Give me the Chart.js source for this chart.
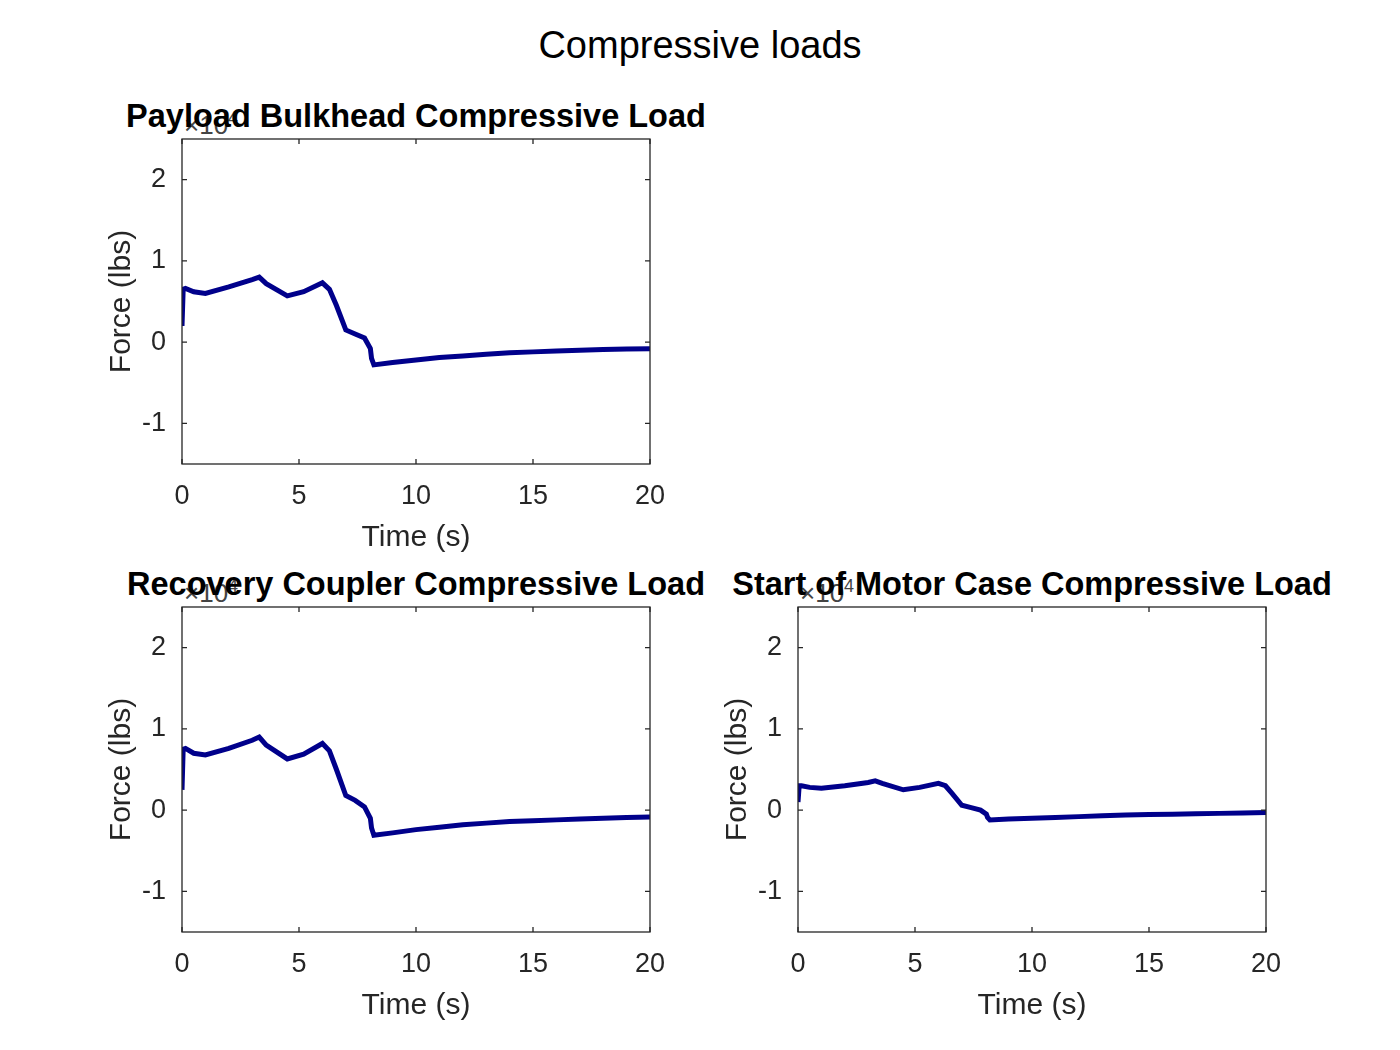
<!DOCTYPE html><html><head><script src="https://cdn.jsdelivr.net/npm/chart.js"></script>
<style>body{margin:0;width:1400px;height:1050px;background:#fff;position:relative;font-family:"Liberation Sans",Arial,sans-serif}
canvas{position:absolute}.t{position:absolute;white-space:nowrap;color:#000}</style></head><body>
<div class="t" style="left:0;width:1400px;text-align:center;top:24px;font-size:38px">Compressive loads</div>
<div class="t" style="left:184px;top:108px;font-size:26px;color:#444">×10<sup style="font-size:18px">4</sup></div>
<div class="t" style="left:184px;top:576px;font-size:26px;color:#444">×10<sup style="font-size:18px">4</sup></div>
<div class="t" style="left:800px;top:576px;font-size:26px;color:#444">×10<sup style="font-size:18px">4</sup></div>
<div class="t" style="left:416px;transform:translateX(-50%);top:98px;font-size:32.5px;font-weight:bold">Payload Bulkhead Compressive Load</div>
<div class="t" style="left:416px;transform:translateX(-50%);top:566px;font-size:32.5px;font-weight:bold">Recovery Coupler Compressive Load</div>
<div class="t" style="left:1032px;transform:translateX(-50%);top:566px;font-size:32.5px;font-weight:bold">Start of Motor Case Compressive Load</div>
<canvas id="c1" style="left:100px;top:100px" width="580" height="460"></canvas>
<canvas id="c2" style="left:100px;top:568px" width="580" height="460"></canvas>
<canvas id="c3" style="left:716px;top:568px" width="580" height="460"></canvas>
<script>
const time=[0,0.05,0.15,0.5,1,2,3,3.3,3.6,4.5,5.2,6,6.3,6.6,7,7.4,7.8,8.05,8.1,8.2,9,10,11,12,13,14,15,16,17,18,19,20];
const payload=[0.2,0.65,0.66,0.62,0.6,0.68,0.77,0.8,0.72,0.57,0.62,0.73,0.65,0.45,0.15,0.1,0.05,-0.08,-0.2,-0.28,-0.25,-0.22,-0.19,-0.17,-0.15,-0.13,-0.12,-0.11,-0.1,-0.09,-0.085,-0.08];
const recovery=[0.25,0.75,0.76,0.7,0.68,0.76,0.86,0.9,0.8,0.63,0.69,0.82,0.73,0.5,0.18,0.12,0.04,-0.1,-0.22,-0.31,-0.28,-0.24,-0.21,-0.18,-0.16,-0.14,-0.13,-0.12,-0.11,-0.1,-0.09,-0.085];
const motor=[0.1,0.3,0.3,0.28,0.27,0.3,0.34,0.36,0.33,0.25,0.28,0.33,0.3,0.2,0.06,0.03,0,-0.05,-0.09,-0.12,-0.11,-0.1,-0.09,-0.08,-0.07,-0.06,-0.055,-0.05,-0.045,-0.04,-0.035,-0.03];
const yTicks=[-1,0,1,2], xTicks=[0,5,10,15,20];
const box={id:'box',afterDraw(c){const a=c.chartArea,x=c.ctx,sx=c.scales.x,sy=c.scales.y;x.save();x.strokeStyle='#262626';x.lineWidth=1.3;x.strokeRect(a.left,a.top,a.width,a.height);
xTicks.forEach(v=>{const p=sx.getPixelForValue(v);x.beginPath();x.moveTo(p,a.bottom);x.lineTo(p,a.bottom-5);x.moveTo(p,a.top);x.lineTo(p,a.top+5);x.stroke();});
yTicks.forEach(v=>{const p=sy.getPixelForValue(v);x.beginPath();x.moveTo(a.left,p);x.lineTo(a.left+5,p);x.moveTo(a.right,p);x.lineTo(a.right-5,p);x.stroke();});x.restore();}};
function mk(id,data){new Chart(document.getElementById(id),{type:'line',data:{datasets:[{data:time.map((t,i)=>({x:t,y:data[i]})),borderColor:'#00008b',borderWidth:5,pointRadius:0,tension:0}]},
options:{responsive:false,animation:false,layout:{padding:{top:39,right:30}},plugins:{legend:{display:false},tooltip:{enabled:false}},
scales:{x:{type:'linear',min:0,max:20,afterBuildTicks:s=>{s.ticks=xTicks.map(v=>({value:v}))},afterFit:s=>{s.height=96},grid:{display:false},border:{display:false},ticks:{color:'#262626',font:{size:27,family:'Liberation Sans'},padding:8,maxRotation:0},title:{display:true,text:'Time (s)',color:'#262626',font:{size:30,family:'Liberation Sans'},padding:{top:2}}},
y:{min:-1.5,max:2.5,afterBuildTicks:s=>{s.ticks=yTicks.map(v=>({value:v}))},afterFit:s=>{s.width=82},grid:{display:false},border:{display:false},ticks:{color:'#262626',font:{size:27,family:'Liberation Sans'},padding:8},title:{display:true,text:'Force (lbs)',color:'#262626',font:{size:30,family:'Liberation Sans'},padding:{bottom:4}}}}},plugins:[box]});}
mk('c1',payload);mk('c2',recovery);mk('c3',motor);
</script></body></html>
